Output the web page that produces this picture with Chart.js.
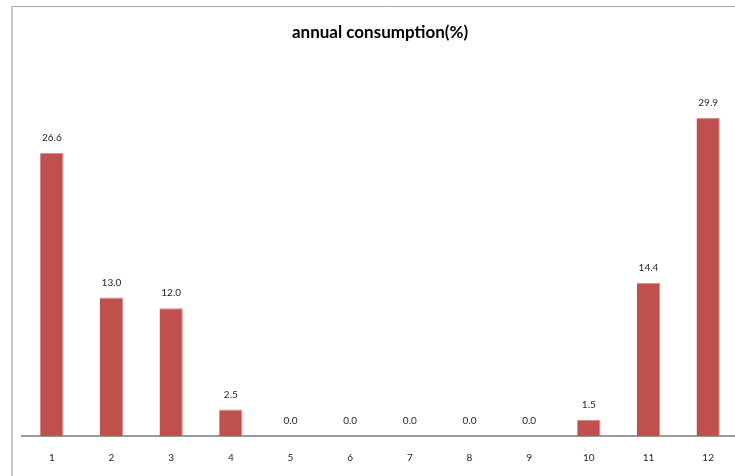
<!DOCTYPE html>
<html>
<head>
<meta charset="utf-8">
<script src="https://cdn.jsdelivr.net/npm/chart.js@4"></script>
<style>
  html, body { margin: 0; padding: 0; background: #fff; overflow: hidden; }
  #wrap { position: relative; width: 760px; height: 476px; }
</style>
</head>
<body>
<div id="wrap"><canvas id="chart" width="760" height="476"></canvas></div>
<script>
// Monthly share of annual consumption, in percent
const months = ['1', '2', '3', '4', '5', '6', '7', '8', '9', '10', '11', '12'];
const consumption = [26.6, 13.0, 12.0, 2.5, 0.0, 0.0, 0.0, 0.0, 0.0, 1.5, 14.4, 29.9];
const chartTitle = 'annual consumption(%)';

const labelFont = '10px Lato, "Open Sans", sans-serif';

// White background plus the frame lines around the chart
const framePlugin = {
  id: 'frame',
  beforeDraw(chart) {
    const ctx = chart.ctx;
    ctx.save();
    ctx.fillStyle = '#ffffff';
    ctx.fillRect(0, 0, chart.width, chart.height);
    ctx.strokeStyle = '#a6a6a6';
    ctx.lineWidth = 1;
    ctx.beginPath();
    ctx.moveTo(11, 6.5);
    ctx.lineTo(chart.width, 6.5);
    ctx.stroke();
    ctx.strokeStyle = '#c8c8c8';
    ctx.lineWidth = 2;
    ctx.beginPath();
    ctx.moveTo(12, 6);
    ctx.lineTo(12, chart.height);
    ctx.stroke();
    ctx.restore();
  }
};

// Value written above each bar
const valueLabels = {
  id: 'valueLabels',
  afterDatasetsDraw(chart) {
    const ctx = chart.ctx;
    const meta = chart.getDatasetMeta(0);
    const values = chart.data.datasets[0].data;
    ctx.save();
    ctx.font = labelFont;
    ctx.fillStyle = '#1f1f2e';
    ctx.textAlign = 'center';
    ctx.textBaseline = 'middle';
    meta.data.forEach((bar, i) => {
      ctx.fillText(values[i].toFixed(1), bar.x, bar.y - 15);
    });
    ctx.restore();
  }
};

new Chart(document.getElementById('chart'), {
  type: 'bar',
  data: {
    labels: months,
    datasets: [{
      data: consumption,
      backgroundColor: '#c0504d',
      borderColor: '#d7898a',
      borderWidth: { top: 1, right: 1, left: 0, bottom: 0 },
      borderSkipped: 'bottom',
      categoryPercentage: 1.0,
      barPercentage: 0.39
    }]
  },
  options: {
    responsive: false,
    animation: false,
    devicePixelRatio: 1,
    layout: { padding: { left: 22, right: 22, top: 0, bottom: -4 } },
    plugins: {
      legend: { display: false },
      tooltip: { enabled: false },
      title: {
        display: true,
        text: chartTitle,
        color: '#000000',
        font: { family: 'Lato, "Open Sans", sans-serif', size: 17, weight: 'bold' },
        padding: { top: 22, bottom: 21 }
      }
    },
    scales: {
      x: {
        grid: { display: false, drawTicks: false },
        border: { display: true, color: '#9a9a9a', width: 2 },
        ticks: {
          color: '#1f1f2e',
          font: { family: 'Lato, "Open Sans", sans-serif', size: 10 },
          padding: 16,
          maxRotation: 0
        }
      },
      y: {
        display: false,
        min: 0,
        max: 35
      }
    }
  },
  plugins: [framePlugin, valueLabels]
});
</script>
</body>
</html>
